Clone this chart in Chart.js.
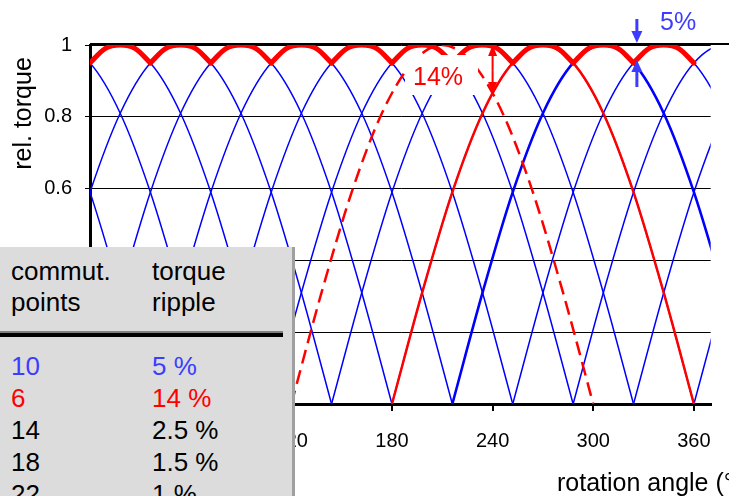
<!DOCTYPE html>
<html>
<head>
<meta charset="utf-8">
<script src="https://cdn.jsdelivr.net/npm/chart.js@4.4.0/dist/chart.umd.min.js"></script>
<style>
  html, body { margin: 0; padding: 0; background: #fff; overflow: hidden; }
  #wrap { position: relative; width: 729px; height: 496px; overflow: hidden; }
  #torqueChart { position: absolute; left: 0; top: 0; }
  #ripple {
    position: absolute; left: 0; top: 247px; width: 292px; height: 260px;
    background: #dcdcdc; border-right: 3px solid #a0a0a0;
    font-family: "Liberation Sans", Arial, sans-serif; font-size: 26px; color: #000;
  }
  #ripple .hdr { position: absolute; top: 8.5px; line-height: 31px; }
  #ripple .rule { position: absolute; left: 0; top: 84px; width: 283px; height: 4px;
    border-top: 2px solid #808080; background: #000; }
  #ripple .col { position: absolute; top: 103px; line-height: 32px; white-space: nowrap; }
  .c1 { left: 11px; }
  .c2 { left: 152px; }
</style>
</head>
<body>
<div id="wrap">
  <canvas id="torqueChart" width="729" height="496"></canvas>
  <div id="ripple"></div>
</div>
<script>
// one half-wave of torque (angle offset in deg, rel. torque)
const archAngles = [0, 18, 36, 54, 72, 90, 108, 126, 144, 162, 180];
const archTorque = [0, 0.31, 0.59, 0.81, 0.95, 1, 0.95, 0.81, 0.59, 0.31, 0];

// where each half-wave starts (deg)
const blueStarts = [-144, -108, -72, -36, 0, 36, 72, 108, 144, 180, 216, 252, 288, 324, 360];
const redSolidStarts = [180];
const redDashedStarts = [120];

// resulting torque with 10 commutation points (top envelope)
const envAngles = [0, 9, 18, 27, 36];
const envTorque = [0.95, 0.99, 1, 0.99, 0.95];
const envStarts = [0, 36, 72, 108, 144, 180, 216, 252, 288, 324];

const xTicks = [0, 60, 120, 180, 240, 300, 360];
const yTicks = [0, 0.2, 0.4, 0.6, 0.8, 1];

// table
const tableHead = [['commut.', 'points'], ['torque', 'ripple']];
const commutPoints = ['10', '6', '14', '18', '22'];
const torqueRipple = ['5 %', '14 %', '2.5 %', '1.5 %', '1 %'];
const rowColors = ['#3c3cff', '#ff0000', '#000', '#000', '#000'];

const BLUE = '#0000ff';
const RED = '#ff0000';
const NOTE_BLUE = '#3c3cff';

Chart.defaults.font.family = '"Liberation Sans", Arial, sans-serif';

function arch(start, angles, torque) {
  return angles.map((a, i) => ({ x: start + a, y: torque[i] }));
}

const datasets = [];
blueStarts.forEach(s => {
  datasets.push({
    data: arch(s, archAngles, archTorque),
    borderColor: BLUE,
    borderWidth: s === 216 ? 2.6 : 1.5,
    order: 3
  });
});
redDashedStarts.forEach(s => {
  datasets.push({
    data: arch(s, archAngles, archTorque),
    borderColor: RED, borderWidth: 2.5, borderDash: [14, 7], order: 2
  });
});
redSolidStarts.forEach(s => {
  datasets.push({
    data: arch(s, archAngles, archTorque),
    borderColor: RED, borderWidth: 2.5, order: 2
  });
});
envStarts.forEach(s => {
  datasets.push({
    data: arch(s, envAngles, envTorque),
    borderColor: RED, borderWidth: 5,
    borderCapStyle: 'round', borderJoinStyle: 'round', order: 1
  });
});

function arrow(ctx, x, yTail, yTip, color, shaft, headW, headL) {
  const dir = yTip > yTail ? 1 : -1;
  ctx.strokeStyle = color;
  ctx.fillStyle = color;
  ctx.lineWidth = shaft;
  ctx.beginPath();
  ctx.moveTo(x, yTail);
  ctx.lineTo(x, yTip - dir * headL);
  ctx.stroke();
  ctx.beginPath();
  ctx.moveTo(x, yTip);
  ctx.lineTo(x - headW / 2, yTip - dir * headL);
  ctx.lineTo(x + headW / 2, yTip - dir * headL);
  ctx.closePath();
  ctx.fill();
}

const notes = {
  id: 'notes',
  afterDatasetsDraw(chart) {
    const { ctx, scales: { x, y } } = chart;
    ctx.save();
    // top rule
    ctx.strokeStyle = '#000';
    ctx.lineWidth = 2;
    ctx.beginPath();
    ctx.moveTo(x.left, 44);
    ctx.lineTo(chart.width, 44);
    ctx.stroke();

    // 14 % label on white
    ctx.fillStyle = '#fff';
    ctx.fillRect(405, 55, 73, 40);
    ctx.font = '25px "Liberation Sans", Arial, sans-serif';
    ctx.fillStyle = RED;
    ctx.textBaseline = 'alphabetic';
    ctx.textAlign = 'left';
    ctx.fillText('14%', 413, 85);

    // 14 % double arrow at 240 deg
    const xr = x.getPixelForValue(240);
    arrow(ctx, xr, y.getPixelForValue(0.93), y.getPixelForValue(1), RED, 2, 9, 11);
    arrow(ctx, xr, y.getPixelForValue(0.93), y.getPixelForValue(0.866), RED, 2, 9, 11);

    // 5 % arrows
    const xb = x.getPixelForValue(326);
    arrow(ctx, xb, 19, 43, NOTE_BLUE, 3, 11, 12);
    arrow(ctx, xb, 87, 60, NOTE_BLUE, 3, 11, 12);
    ctx.fillStyle = NOTE_BLUE;
    ctx.fillText('5%', 660, 30);

    // axis titles
    ctx.fillStyle = '#000';
    ctx.fillText('rotation angle (°)', 557, 491);
    ctx.translate(31, 113.5);
    ctx.rotate(-Math.PI / 2);
    ctx.textAlign = 'center';
    ctx.fillText('rel. torque', 0, 0);
    ctx.restore();
  }
};

new Chart(document.getElementById('torqueChart'), {
  type: 'line',
  data: { datasets },
  options: {
    responsive: false,
    animation: false,
    layout: { padding: { top: 45, right: 15, left: 0, bottom: 0 } },
    plugins: { legend: { display: false }, tooltip: { enabled: false } },
    elements: {
      point: { radius: 0, hoverRadius: 0 },
      line: { cubicInterpolationMode: 'monotone', fill: false }
    },
    scales: {
      x: {
        type: 'linear', min: 0, max: 370,
        afterFit(s) { s.height = 92; },
        afterBuildTicks(s) { s.ticks = xTicks.map(v => ({ value: v })); },
        grid: { drawOnChartArea: false, color: '#000', lineWidth: 2, tickLength: 7 },
        border: { color: '#000', width: 3 },
        ticks: { color: '#000', font: { size: 20 }, padding: 18, maxRotation: 0,
          callback: v => String(v) }
      },
      y: {
        type: 'linear', min: 0, max: 1,
        afterFit(s) { s.width = 90; },
        afterBuildTicks(s) { s.ticks = yTicks.map(v => ({ value: v })); },
        grid: { color: '#000', lineWidth: 1, tickLength: 5 },
        border: { color: '#000', width: 3 },
        ticks: { color: '#000', font: { size: 20 }, padding: 13,
          callback: v => String(v) }
      }
    }
  },
  plugins: [notes]
});

// table overlay
const box = document.getElementById('ripple');
tableHead.forEach((lines, i) => {
  const d = document.createElement('div');
  d.className = 'hdr ' + (i === 0 ? 'c1' : 'c2');
  d.innerHTML = lines.join('<br>');
  box.appendChild(d);
});
const rule = document.createElement('div');
rule.className = 'rule';
box.appendChild(rule);
[commutPoints, torqueRipple].forEach((col, i) => {
  const d = document.createElement('div');
  d.className = 'col ' + (i === 0 ? 'c1' : 'c2');
  col.forEach((t, r) => {
    const line = document.createElement('div');
    line.textContent = t;
    line.style.color = rowColors[r];
    d.appendChild(line);
  });
  box.appendChild(d);
});
</script>
</body>
</html>
